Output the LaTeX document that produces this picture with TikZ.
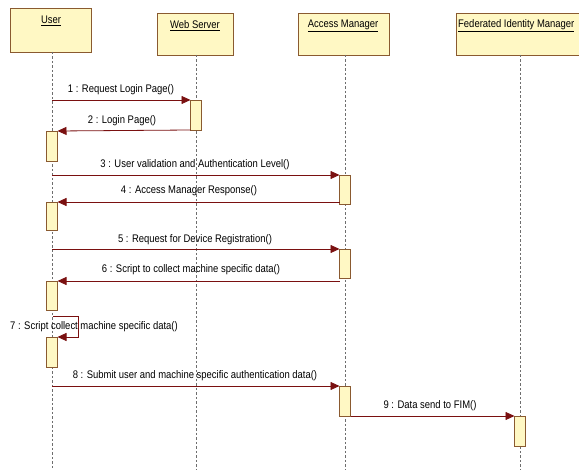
\documentclass[tikz,border=0pt]{standalone}
\usepackage{fontspec}
\setmainfont[FakeStretch=0.86]{Liberation Sans}
\usetikzlibrary{arrows.meta}
\definecolor{boxfill}{HTML}{FFF8C4}
\definecolor{boxdraw}{HTML}{8A5A30}
\definecolor{msg}{HTML}{7A1010}
\definecolor{life}{HTML}{6E6E6E}
\begin{document}
\begin{tikzpicture}[x=1pt,y=-1pt,
  actor/.style={draw=boxdraw,fill=boxfill,line width=0.8pt,inner sep=0pt,outer sep=0pt,anchor=north west},
  actlabel/.style={font=\fontsize{11}{12}\selectfont,inner sep=0pt,text=black},
  lifeline/.style={draw=life,line width=0.8pt,dash pattern=on 2.5pt off 2pt},
  activ/.style={draw=boxdraw,fill=boxfill,line width=0.8pt,inner sep=0pt,outer sep=0pt,minimum width=11pt,anchor=north},
  message/.style={draw=msg,line width=0.8pt,-{Triangle[length=9pt,width=8pt]}},
  mlabel/.style={font=\fontsize{11}{12}\selectfont,inner sep=0pt,text=black}]
\useasboundingbox (0,0) rectangle (579,470);
% actor boxes
\node[actor,minimum width=81pt,minimum height=44pt] (user) at (10,8) {};
\node[actor,minimum width=76pt,minimum height=42pt] (ws) at (157,13) {};
\node[actor,minimum width=91pt,minimum height=42pt] (am) at (298,13) {};
\node[actor,minimum width=130pt,minimum height=42pt] (fim) at (456,13) {};
\node[actlabel] (userT) at (51,21) {\underline{User}};
\node[actlabel] (wsT) at (195,26) {\underline{Web Server}};
\node[actlabel] (amT) at (343,26) {\underline{Access Manager}};
\node[actlabel,anchor=west] (fimT) at (458,26) {\underline{Federated Identity Manager}};
% lifeline ends
\coordinate (userL) at (52,52);
\coordinate (wsL) at (196,55);
\coordinate (amL) at (345,55);
\coordinate (fimL) at (520,55);
\coordinate (userE) at (52,470);
\coordinate (wsE) at (196,470);
\coordinate (amE) at (345,470);
\coordinate (fimE) at (520,470);
\draw[lifeline] (userL) -- (userE);
\draw[lifeline] (wsL) -- (wsE);
\draw[lifeline] (amL) -- (amE);
\draw[lifeline] (fimL) -- (fimE);
% activations
\node[activ,minimum height=30pt] (wsA1) at (196,100) {};
\node[activ,minimum height=30pt] (uA1) at (52,131) {};
\node[activ,minimum height=29pt] (amA1) at (345,175) {};
\node[activ,minimum height=28pt] (uA2) at (52,202) {};
\node[activ,minimum height=29pt] (amA2) at (345,249) {};
\node[activ,minimum height=29pt] (uA3) at (52,281) {};
\node[activ,minimum height=30pt] (uA4) at (52,337) {};
\node[activ,minimum height=30pt] (amA3) at (345,386) {};
\node[activ,minimum height=30pt] (fimA1) at (520,416) {};
% message start points on lifelines
\coordinate (m1s) at (52,100);
\coordinate (m3s) at (52,175);
\coordinate (m5s) at (52,249);
\coordinate (m7s) at (53,316);
\coordinate (m7a) at (78,316);
\coordinate (m7b) at (78,337);
\coordinate (m8s) at (52,386);
% messages
\draw[message] (m1s) -- (wsA1.north west);
\node[mlabel] (l1) at (121,90) {1 : Request Login Page()};
\draw[message] (wsA1.south west) -- (uA1.north east);
\node[mlabel] (l2) at (122,121) {2 : Login Page()};
\draw[message] (m3s) -- (amA1.north west);
\node[mlabel] (l3) at (195,165) {3 : User validation and Authentication Level()};
\draw[message] (amA1.south west |- uA2.north) -- (uA2.north east);
\node[mlabel] (l4) at (189,191) {4 : Access Manager Response()};
\draw[message] (m5s) -- (amA2.north west);
\node[mlabel] (l5) at (195,240) {5 : Request for Device Registration()};
\draw[message] (amA2.south west |- uA3.north) -- (uA3.north east);
\node[mlabel] (l6) at (191,270) {6 : Script to collect machine specific data()};
\draw[message] (m7s) -- (m7a) -- (m7b) -- (uA4.north east);
\node[mlabel] (l7) at (94,327) {7 : Script collect machine specific data()};
\draw[message] (m8s) -- (amA3.north west);
\node[mlabel] (l8) at (195,376) {8 : Submit user and machine specific authentication data()};
\draw[message] (amA3.south east) -- (amA3.south east -| fimA1.west);
\node[mlabel] (l9) at (430,406) {9 : Data send to FIM()};
\end{tikzpicture}
\end{document}
